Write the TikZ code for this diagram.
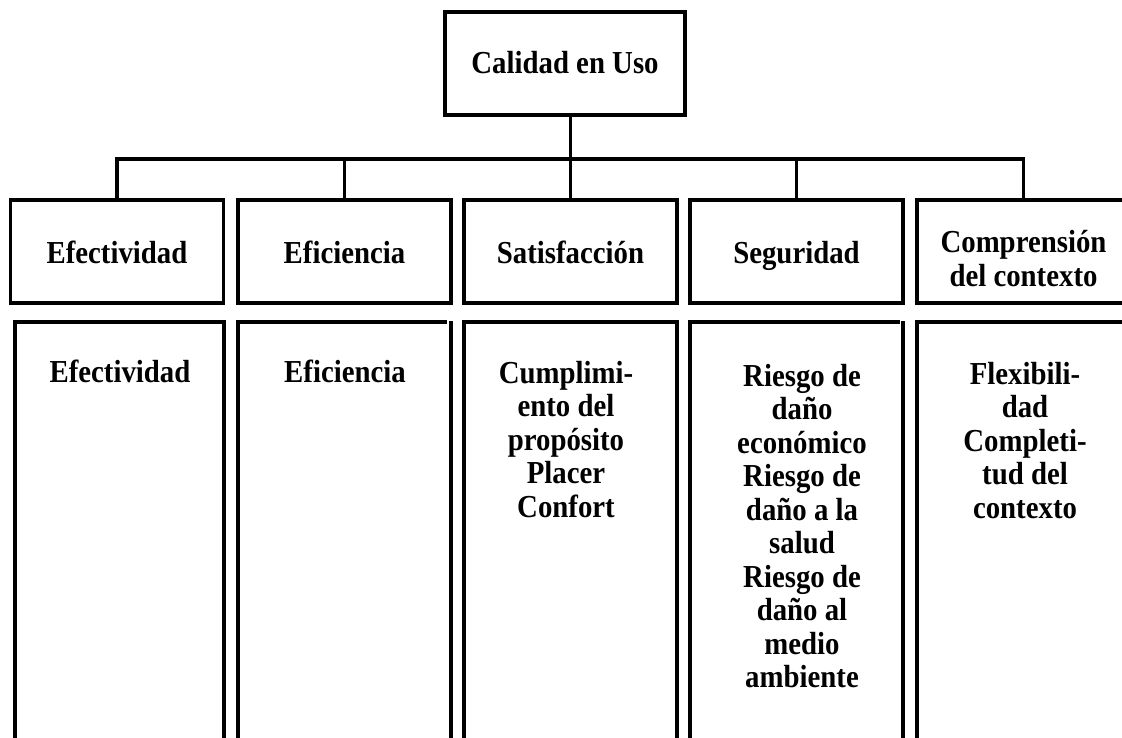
\documentclass[tikz,border=0pt]{standalone}
\usepackage{fontspec}
\setmainfont{Liberation Serif}[FakeStretch=0.9]
\begin{document}
\begin{tikzpicture}[x=1pt,y=-1pt,
  txt/.style={font=\bfseries\fontsize{32}{33.5}\selectfont},
  frame/.style={line width=3.5pt},
  conn/.style={line width=3.4pt},
  topbox/.style={draw,frame,txt,inner sep=0pt,minimum width=240pt,minimum height=103pt,text height=21pt,text depth=0pt},
  midbox/.style={draw,frame,txt,inner sep=0pt,minimum width=213pt,minimum height=103pt,text height=25pt,text depth=0pt},
  listtxt/.style={txt,align=center,inner sep=0pt,anchor=north}]
\useasboundingbox (0,0) rectangle (1122,738);
\clip (0,0) rectangle (1122,738);
% top node
\node[topbox] (top) at (565,63.5) {Calidad en Uso};
% second row
\node[midbox] (m1) at (117,251.5) {Efectividad};
\node[midbox] (m2) at (344.5,251.5) {Eficiencia};
\node[midbox] (m3) at (570.5,251.5) {Satisfacción};
\node[midbox] (m4) at (796.5,251.5) {Seguridad};
\node[midbox] (m5) at (1023.5,251.5) {};
\node[txt,align=center,inner sep=0pt,font=\bfseries\fontsize{32}{34}\selectfont] (m5t) at (1023.5,259) {Comprensión\\del contexto};
% connectors
\coordinate (bus) at (0,159);
\draw[conn] (top.south -| m3.north) -- (m3.north);
\draw[conn] (m1.north) -- (m1.north |- bus) -- (m5.north |- bus) -- (m5.north);
\draw[conn] (m2.north) -- (m2.north |- bus);
\draw[conn] (m4.north) -- (m4.north |- bus);
% third row frames (open at the bottom)
\draw[frame] (15,760) |- (224,322) -- (224,760);
\draw[frame] (238,760) |- (447,322);
\draw[frame] (451,321) -- (451,760);
\draw[frame] (464,760) |- (677,322) -- (677,760);
\draw[frame] (690,760) |- (900,322);
\draw[frame] (903,321) -- (903,760);
\draw[frame] (917,760) |- (1140,322);
% third row texts
\node[listtxt] (t1) at (120,360) {Efectividad};
\node[listtxt] (t2) at (345,360) {Eficiencia};
\node[listtxt] (t3) at (566,361) {Cumplimi-\\ento del\\propósito\\Placer\\Confort};
\node[listtxt] (t4) at (802,364) {Riesgo de\\daño\\económico\\Riesgo de\\daño a la\\salud\\Riesgo de\\daño al\\medio\\ambiente};
\node[listtxt] (t5) at (1025,362) {Flexibili-\\dad\\Completi-\\tud del\\contexto};
\end{tikzpicture}
\end{document}
